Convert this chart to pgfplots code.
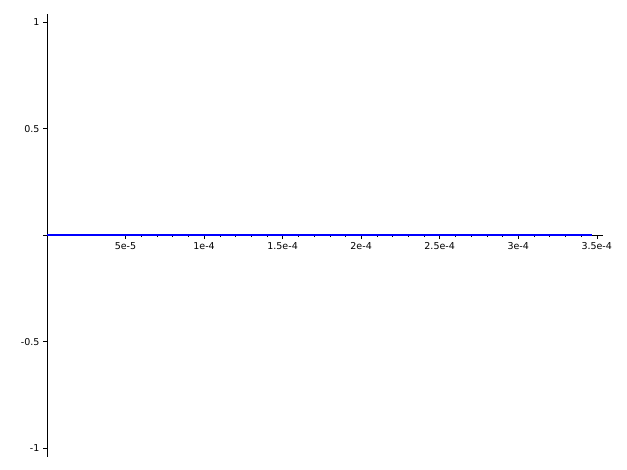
\documentclass[border=0pt]{standalone}
\usepackage{pgfplots}
\pgfplotsset{compat=1.18}
\usepackage{fontspec}
\setmainfont{DejaVu Sans}
\begin{document}
\begin{tikzpicture}[x=1pt,y=1pt]
\useasboundingbox (0,0) rectangle (627,470);
\begin{axis}[at={(47pt,13pt)},anchor=south west,scale only axis,
 width=556pt,height=443pt,
 axis lines=middle, axis line style={-},
 xmin=0,xmax=3.54e-4,ymin=-1.042,ymax=1.038,
 xtick={5e-5,1e-4,1.5e-4,2e-4,2.5e-4,3e-4,3.5e-4},
 xticklabels={5e-5,1e-4,1.5e-4,2e-4,2.5e-4,3e-4,3.5e-4},
 ytick={-1,-0.5,0.5,1}, yticklabels={-1,-0.5,0.5,1},
 extra y ticks={0}, extra y tick labels={},
 minor x tick num=4, minor y tick num=4,
 tick align=outside, major tick length=4pt, minor tick length=2pt,
 tick style={black,thin},
 ticklabel style={font=\fontsize{9.5}{11}\selectfont},
 scaled x ticks=false,
 /pgf/number format/assume math mode=true,
 clip=false]
\addplot[blue,line width=2.8pt] coordinates {(0,0) (3.47e-4,0)};
\end{axis}
\end{tikzpicture}
\end{document}
